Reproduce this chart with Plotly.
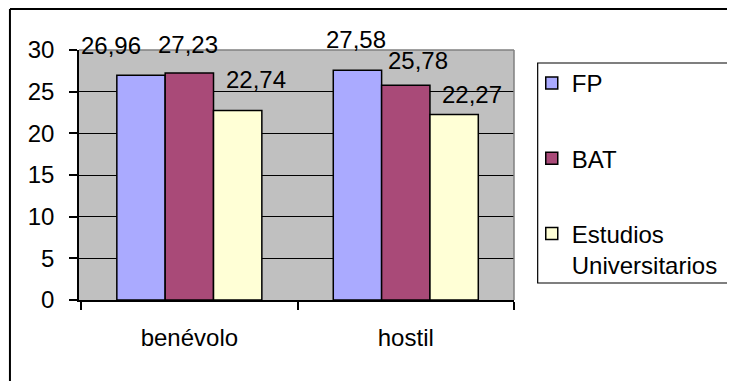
import plotly.graph_objects as go

categories = ["benévolo", "hostil"]
series_names = ["FP", "BAT", "Estudios<br>Universitarios"]
fp_values = [26.96, 27.58]
bat_values = [27.23, 25.78]
eu_values = [22.74, 22.27]
value_labels_fp = ["26,96", "27,58"]
value_labels_bat = ["27,23", "25,78"]
value_labels_eu = ["22,74", "22,27"]
y_ticks = [0, 5, 10, 15, 20, 25, 30]

colors = ["#AAAAFF", "#A94A78", "#FFFFD6"]
FONT = "Liberation Sans, Arial, sans-serif"
FS = 24

# page has an 8px body margin; work in reference pixel coords minus 8
OFF = 8
W, H = 735 - OFF, 381 - OFF
# plot area in reference pixels: x 79-520, y 50-300
L, T = 79 - OFF, 50 - OFF
R = W - (520 - OFF)
B = H - (300 - OFF)
PW, PH = W - L - R, H - T - B

def px_x(p):
    return (p - OFF - L) / PW

def px_y(p):
    return (H - B - (p - OFF)) / PH

fig = go.Figure()
all_values = [fp_values, bat_values, eu_values]
for name, vals, col in zip(series_names, all_values, colors):
    fig.add_bar(x=categories, y=vals, name=name, legendgroup=name,
                marker=dict(color=col, line=dict(color="black", width=1.5)))

# data labels (label offsets in pixels relative to bar top centre)
bar_w = (1 - 0.33) / 3
label_sets = [value_labels_fp, value_labels_bat, value_labels_eu]
offsets = [
    [(-30, 30), (-1, 31)],
    [(-1, 29), (12, 25)],
    [(18, 31), (18, 20)],
]
annotations = []
for s, (vals, labs) in enumerate(zip(all_values, label_sets)):
    for i, (v, lab) in enumerate(zip(vals, labs)):
        dx, dy = offsets[s][i]
        annotations.append(dict(
            x=i + (s - 1) * bar_w, y=v, xref="x", yref="y", text=lab,
            showarrow=False, xshift=dx, yshift=dy,
            xanchor="center", yanchor="middle",
            font=dict(family=FONT, size=FS, color="black")))

shapes = [
    # outer chart border (left and top visible)
    dict(type="line", xref="paper", yref="paper", x0=px_x(9), x1=px_x(760),
         y0=px_y(9), y1=px_y(9), line=dict(color="black", width=2)),
    dict(type="line", xref="paper", yref="paper", x0=px_x(9), x1=px_x(9),
         y0=px_y(9), y1=px_y(400), line=dict(color="black", width=2)),
    # plot area border top/right (grey)
    dict(type="line", xref="paper", yref="paper", x0=0, x1=1, y0=1, y1=1,
         line=dict(color="#808080", width=1.5)),
    dict(type="line", xref="paper", yref="paper", x0=1, x1=1, y0=0, y1=1,
         line=dict(color="#808080", width=1.5)),
    # legend box
    dict(type="rect", xref="paper", yref="paper", x0=px_x(544), x1=px_x(760),
         y0=px_y(283), y1=px_y(63), line=dict(color="black", width=1.2),
         fillcolor="white", layer="below"),
]

fig.update_layout(
    width=W, height=H,
    margin=dict(l=L, r=R, t=T, b=B, pad=0),
    paper_bgcolor="white", plot_bgcolor="#C0C0C0",
    barmode="group", bargap=0.33, bargroupgap=0,
    font=dict(family=FONT, size=FS, color="black"),
    showlegend=True,
    legend=dict(x=px_x(538), y=px_y(61), xanchor="left", yanchor="top",
                xref="paper", yref="paper",
                bgcolor="rgba(0,0,0,0)", borderwidth=0,
                tracegroupgap=41, valign="top", itemwidth=30,
                font=dict(family=FONT, size=FS, color="black")),
    annotations=annotations,
    shapes=shapes,
)
fig.update_xaxes(showline=True, linecolor="black", linewidth=1.5,
                 ticks="outside", ticklen=8, tickcolor="black", tickwidth=1.5,
                 tickson="boundaries", showgrid=False, ticklabelstandoff=15,
                 tickfont=dict(family=FONT, size=FS, color="black"))
fig.update_yaxes(range=[0, 30], tickvals=y_ticks, showline=True,
                 linecolor="black", linewidth=1.5, ticks="outside", ticklen=8,
                 tickcolor="black", tickwidth=1.5, showgrid=True,
                 gridcolor="black", gridwidth=1, zeroline=False,
                 ticklabelstandoff=10,
                 tickfont=dict(family=FONT, size=FS, color="black"))

fig.write_html("out.html")
